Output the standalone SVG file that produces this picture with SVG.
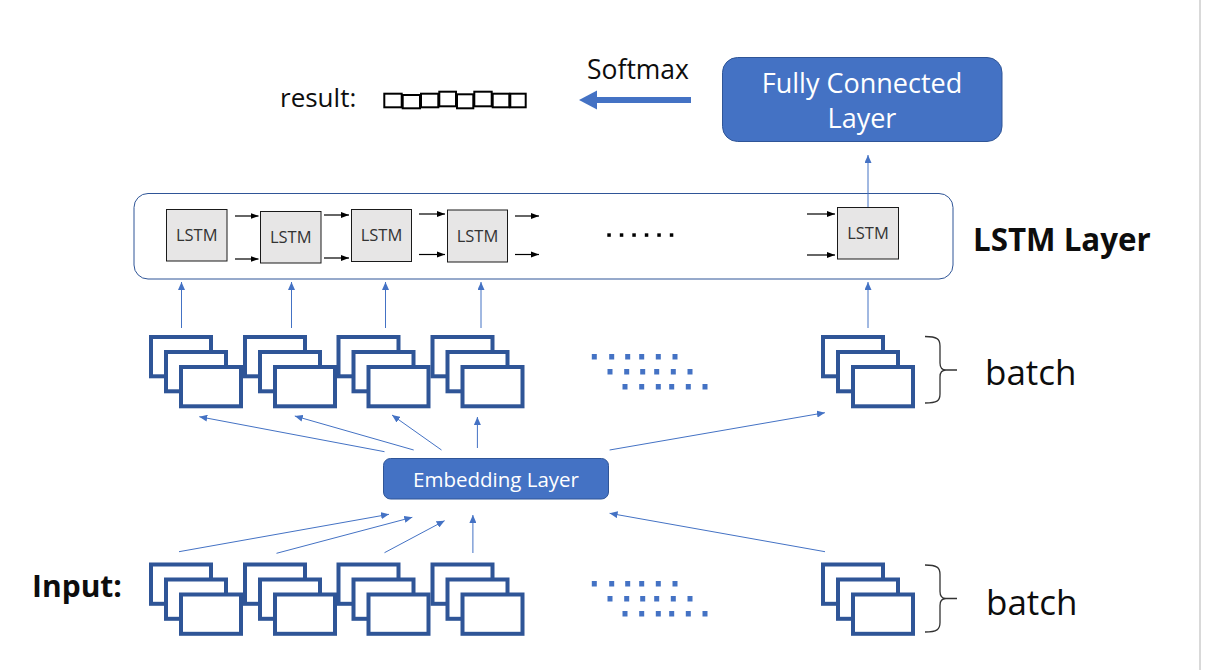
<svg xmlns="http://www.w3.org/2000/svg" xmlns:xlink="http://www.w3.org/1999/xlink" width="1205" height="670" viewBox="0 0 1205 670">
<style>
.t{font-family:"Open Sans","Noto Sans","Liberation Sans",sans-serif;fill:#0d0d0d}
.b{font-weight:bold}
.w{fill:#ffffff}
.lst{fill:#e7e6e6;stroke:#1a1a1a;stroke-width:1}
.lt{font-family:"Open Sans","Noto Sans","Liberation Sans",sans-serif;font-size:16.5px;fill:#333;text-anchor:middle}
.sr{fill:#fff;stroke:#2f5597;stroke-width:4}
.ba{stroke:#4472c4;stroke-width:1;fill:none;marker-end:url(#ab)}
.ka{stroke:#000;stroke-width:1.2;fill:none;marker-end:url(#ak)}
.rb{fill:#fff;stroke:#000;stroke-width:2}
.bd{fill:#4472c4}
.br{fill:none;stroke:#333;stroke-width:1.3}
</style>
<defs>
<marker id="ab" markerUnits="userSpaceOnUse" markerWidth="9" markerHeight="7" refX="8" refY="3.5" orient="auto">
<path d="M0,0 L8,3.5 L0,7 z" fill="#4472c4"/>
</marker>
<marker id="ak" markerUnits="userSpaceOnUse" markerWidth="9" markerHeight="7" refX="8" refY="3.5" orient="auto">
<path d="M0,0.5 L8,3.5 L0,6.5 z" fill="#000"/>
</marker>
<g id="stk">
<rect class="sr" x="2" y="2" width="60" height="39.3"/>
<rect class="sr" x="17" y="17" width="60" height="39.3"/>
<rect class="sr" x="32" y="32" width="60" height="39.3"/>
</g>
<g id="dots">
<rect class="bd" x="591.8" y="354" width="5" height="5.5"/>
<rect class="bd" x="609.2" y="354" width="5" height="5.5"/>
<rect class="bd" x="625.2" y="354" width="5" height="5.5"/>
<rect class="bd" x="639.2" y="354" width="5" height="5.5"/>
<rect class="bd" x="655.8" y="354" width="5" height="5.5"/>
<rect class="bd" x="672.5" y="354" width="5" height="5.5"/>
<rect class="bd" x="607.5" y="369" width="5" height="5.5"/>
<rect class="bd" x="624.2" y="369" width="5" height="5.5"/>
<rect class="bd" x="640.2" y="369" width="5" height="5.5"/>
<rect class="bd" x="654.2" y="369" width="5" height="5.5"/>
<rect class="bd" x="670.8" y="369" width="5" height="5.5"/>
<rect class="bd" x="687.5" y="369" width="5" height="5.5"/>
<rect class="bd" x="622.5" y="384" width="5" height="5.5"/>
<rect class="bd" x="639.2" y="384" width="5" height="5.5"/>
<rect class="bd" x="655.8" y="384" width="5" height="5.5"/>
<rect class="bd" x="669.2" y="384" width="5" height="5.5"/>
<rect class="bd" x="685.8" y="384" width="5" height="5.5"/>
<rect class="bd" x="702.5" y="384" width="5" height="5.5"/>
</g>
</defs>
<rect x="0" y="0" width="1205" height="670" fill="#ffffff"/>
<rect x="1199" y="0" width="2" height="670" fill="#d9d9d9"/>

<g id="result">
<text class="t" x="280" y="107" font-size="26">result:</text>
<rect class="rb" x="384.3" y="93.7" width="17.4" height="13.6"/>
<rect class="rb" x="402.7" y="95" width="17.3" height="13.3"/>
<rect class="rb" x="421" y="93.7" width="17.3" height="13.6"/>
<rect class="rb" x="439.3" y="91.7" width="16.7" height="14.6"/>
<rect class="rb" x="457" y="94.3" width="16.3" height="14"/>
<rect class="rb" x="474.3" y="91.7" width="17.4" height="14.6"/>
<rect class="rb" x="492.7" y="93.7" width="16.6" height="13.6"/>
<rect class="rb" x="510.3" y="93.7" width="15.4" height="13.6"/>
</g>

<g id="softmax">
<text class="t" x="587" y="79" font-size="26.5">Softmax</text>
<line x1="691" y1="100" x2="595" y2="100" stroke="#4472c4" stroke-width="6"/>
<path d="M579,100 L597,90.5 L597,109.5 z" fill="#4472c4"/>
</g>

<g id="fc">
<rect x="722.5" y="57.5" width="279.5" height="84" rx="15" fill="#4472c4" stroke="#2f5597" stroke-width="1"/>
<text class="t w" x="862" y="93" font-size="27" text-anchor="middle">Fully Connected</text>
<text class="t w" x="862" y="128" font-size="27" text-anchor="middle">Layer</text>
</g>

<g id="lstm-layer">
<rect x="134" y="193.5" width="819" height="85.5" rx="14" fill="#fff" stroke="#2f5597" stroke-width="1"/>
<text class="t b" x="973" y="251" font-size="31.3">LSTM Layer</text>
</g>
<g id="lstm1"><rect class="lst" x="166.5" y="209.5" width="60.5" height="51.5"/><text class="lt" x="196.7" y="241">LSTM</text></g>
<g id="lstm2"><rect class="lst" x="260.5" y="211.5" width="60.5" height="51.5"/><text class="lt" x="290.7" y="243">LSTM</text></g>
<g id="lstm3"><rect class="lst" x="351.5" y="209.5" width="60" height="52"/><text class="lt" x="381.5" y="241">LSTM</text></g>
<g id="lstm4"><rect class="lst" x="447.5" y="210" width="60" height="52"/><text class="lt" x="477.5" y="241.5">LSTM</text></g>
<g id="lstm5"><rect class="lst" x="837.5" y="207.5" width="61" height="51.5"/><text class="lt" x="868" y="239">LSTM</text></g>
<g id="ellipsis" fill="#000">
<rect x="607.3" y="233.3" width="3.5" height="3.5"/>
<rect x="619.8" y="233.3" width="3.5" height="3.5"/>
<rect x="632.3" y="233.3" width="3.5" height="3.5"/>
<rect x="644.8" y="233.3" width="3.5" height="3.5"/>
<rect x="657.3" y="233.3" width="3.5" height="3.5"/>
<rect x="669.8" y="233.3" width="3.5" height="3.5"/>
</g>

<g id="stacks-top">
<g id="s1"><use xlink:href="#stk" x="149" y="335"/></g>
<g id="s2"><use xlink:href="#stk" x="243" y="335"/></g>
<g id="s3"><use xlink:href="#stk" x="336.5" y="335"/></g>
<g id="s4"><use xlink:href="#stk" x="430.5" y="335"/></g>
<g id="s5"><use xlink:href="#stk" x="821" y="335"/></g>
<g id="dots-top"><use xlink:href="#dots"/></g>
</g>
<g id="stacks-bottom">
<g id="i1"><use xlink:href="#stk" x="149" y="562.5"/></g>
<g id="i2"><use xlink:href="#stk" x="243" y="562.5"/></g>
<g id="i3"><use xlink:href="#stk" x="336.5" y="562.5"/></g>
<g id="i4"><use xlink:href="#stk" x="430.5" y="562.5"/></g>
<g id="i5"><use xlink:href="#stk" x="821" y="562.5"/></g>
<g id="dots-bottom"><use xlink:href="#dots" y="227"/></g>
</g>

<g id="embedding">
<rect x="383.5" y="458.5" width="225" height="40.5" rx="7" fill="#4472c4" stroke="#2f5597" stroke-width="1"/>
<text class="t w" x="496" y="487" font-size="20.5" text-anchor="middle">Embedding Layer</text>
</g>

<g id="batch-top">
<path class="br" d="M925,336.5 C937,336.5 940,339 940,346 V363 C940,368 942,370 946,370 H957 M946,370 C942,370 940,372 940,377 V394 C940,401 937,403 925,403"/>
<text class="t" x="985" y="385" font-size="35">batch</text>
</g>
<g id="batch-bottom">
<path class="br" d="M925,565 C937,565 940,567.5 940,574.5 V591.5 C940,596.5 942,598.5 946,598.5 H957 M946,598.5 C942,598.5 940,600.5 940,605.5 V622.5 C940,629.5 937,632 925,632"/>
<text class="t" x="986" y="615" font-size="35">batch</text>
</g>
<g id="input-label">
<text class="t b" x="32" y="597" font-size="30">Input:</text>
</g>

<g id="connectors">
<line class="ka" x1="235" y1="216" x2="258.5" y2="216"/>
<line class="ka" x1="235" y1="259" x2="258.5" y2="259"/>
<line class="ka" x1="324" y1="215" x2="349" y2="215"/>
<line class="ka" x1="324" y1="258" x2="349" y2="258"/>
<line class="ka" x1="419" y1="214" x2="445" y2="214"/>
<line class="ka" x1="419" y1="254.5" x2="445" y2="254.5"/>
<line class="ka" x1="515" y1="216" x2="539" y2="216"/>
<line class="ka" x1="515" y1="254.5" x2="539" y2="254.5"/>
<line class="ka" x1="807" y1="214" x2="835" y2="214"/>
<line class="ka" x1="807" y1="255" x2="835" y2="255"/>

<line class="ba" x1="868" y1="207" x2="868" y2="155"/>
<line class="ba" x1="181.5" y1="328" x2="181.5" y2="282"/>
<line class="ba" x1="291.5" y1="328" x2="291.5" y2="282"/>
<line class="ba" x1="385.5" y1="328" x2="385.5" y2="282"/>
<line class="ba" x1="481" y1="328" x2="481" y2="282"/>
<line class="ba" x1="868" y1="328" x2="868" y2="282"/>

<line class="ba" x1="384.5" y1="451.7" x2="199.3" y2="416.7"/>
<line class="ba" x1="413.7" y1="450" x2="294.8" y2="416"/>
<line class="ba" x1="441.5" y1="450" x2="392" y2="415"/>
<line class="ba" x1="477.4" y1="448" x2="477.4" y2="417"/>
<line class="ba" x1="609.6" y1="450" x2="824.9" y2="412.7"/>

<line class="ba" x1="179" y1="551.7" x2="389" y2="514.3"/>
<line class="ba" x1="276.5" y1="553.3" x2="412.3" y2="517.3"/>
<line class="ba" x1="384.5" y1="552.7" x2="444.6" y2="520.7"/>
<line class="ba" x1="472.9" y1="553" x2="472.9" y2="515"/>
<line class="ba" x1="825" y1="551.7" x2="609.6" y2="513.3"/>
</g>
</svg>
